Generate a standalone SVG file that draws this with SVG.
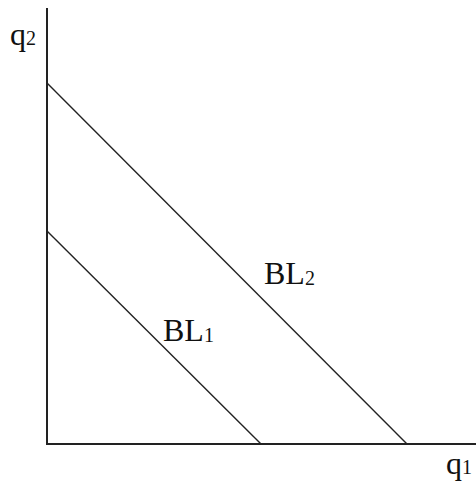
<svg xmlns="http://www.w3.org/2000/svg" width="476" height="488" viewBox="0 0 476 488">
<style>
.ax{stroke:#222;stroke-width:2;fill:none}
.bl{stroke:#222;stroke-width:1.4;fill:none}
.t{font-family:"Liberation Serif","Times New Roman",serif;fill:#111}
.m{font-size:32px}
.s{font-size:20px}
</style>
<rect width="476" height="488" fill="#fff"/>
<g id="connectors">
<line class="ax" x1="47" y1="8" x2="47" y2="445"/>
<line class="ax" x1="46" y1="444" x2="476" y2="444"/>
<line class="bl" x1="47" y1="83" x2="407" y2="444"/>
<line class="bl" x1="47" y1="231" x2="261" y2="444"/>
</g>
<g id="q2"><text class="t" x="10" y="45"><tspan class="m">q</tspan><tspan class="s">2</tspan></text></g>
<g id="q1"><text class="t" x="446" y="474"><tspan class="m">q</tspan><tspan class="s">1</tspan></text></g>
<g id="BL2"><text class="t" x="264" y="284"><tspan class="m">BL</tspan><tspan class="s" dy="1">2</tspan></text></g>
<g id="BL1"><text class="t" x="163" y="341"><tspan class="m">BL</tspan><tspan class="s" dy="1">1</tspan></text></g>
</svg>
